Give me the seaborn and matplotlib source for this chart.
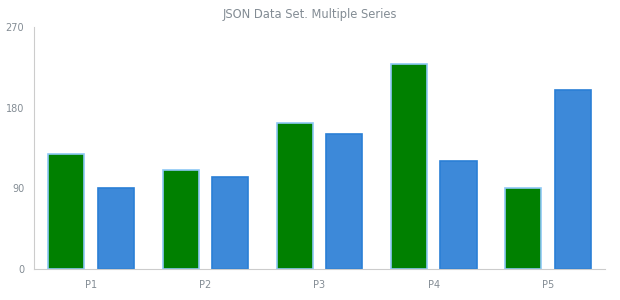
import matplotlib
matplotlib.use("Agg")
import matplotlib.pyplot as plt
import seaborn as sns
import pandas as pd
import numpy as np

categories = ["P1", "P2", "P3", "P4", "P5"]
series1 = [128, 111, 163, 229, 90]
series2 = [90, 103, 151, 120, 200]
series_names = ["Series 1", "Series 2"]

df = pd.DataFrame({
    "x": categories * 2,
    "y": series1 + series2,
    "series": [series_names[0]] * len(categories) + [series_names[1]] * len(categories),
})

sns.set_theme(style="white")
plt.rcParams['font.family'] = ['DejaVu Sans']

fig = plt.figure(figsize=(6.2, 3.0), dpi=100)
ax = fig.add_axes([0.0548, 0.1033, 0.9212, 0.8067])

palette = {series_names[0]: "#008000", series_names[1]: "#3d89d9"}
sns.barplot(data=df, x="x", y="y", hue="series", palette=palette,
            width=0.866, gap=0.27, ax=ax, legend=False, saturation=1,
            linewidth=1.2, edgecolor="#90caf9")

n = len(categories)
for i, p in enumerate(ax.patches):
    if i >= n:
        p.set_edgecolor("#2a7fd6")
    else:
        p.set_edgecolor("#8ec8f5")

ax.set_ylim(0, 270)
ax.set_xlim(-0.5, n - 0.5)
ax.set_yticks([0, 90, 180, 270])
ax.set_xlabel("")
ax.set_ylabel("")
ax.set_xticks(range(n))
ax.set_xticks(np.arange(-0.5, n, 1.0), minor=True)
ax.tick_params(axis="x", which="major", length=0, pad=8, labelsize=7, labelcolor="#838c94")
ax.tick_params(axis="x", which="minor", length=4, width=0.8, color="#cccccc", direction="out")
ax.tick_params(axis="y", which="major", length=4, width=0.8, color="#cccccc", pad=3,
               labelsize=7, labelcolor="#838c94", direction="out")

for side in ["top", "right"]:
    ax.spines[side].set_visible(False)
for side in ["left", "bottom"]:
    ax.spines[side].set_color("#cccccc")
    ax.spines[side].set_linewidth(0.8)

fig.text(0.5, 0.952, "JSON Data Set. Multiple Series", ha="center", va="center",
         fontsize=8.3, color="#838c94")

fig.savefig("out.png", dpi=100, facecolor="white")
